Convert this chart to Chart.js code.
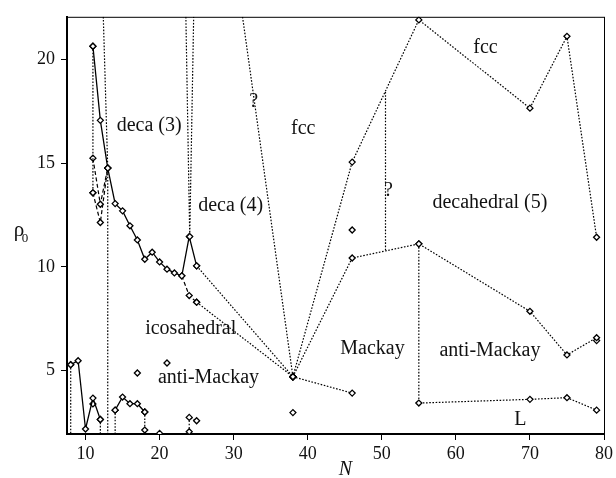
<!DOCTYPE html>
<html>
<head>
<meta charset="utf-8">
<script src="https://cdn.jsdelivr.net/npm/chart.js@4"></script>
<style>
    html, body { margin: 0; padding: 0; background: #fff; }
    #wrap { width: 616px; height: 478px; }
</style>
</head>
<body>
<div id="wrap"><canvas id="phaseChart" width="616" height="478"></canvas></div>
<script>
// axis limits and ticks
const Y_LO = 1.95, Y_HI = 22.05;
const xTicks = [10, 20, 30, 40, 50, 60, 70, 80];
const yTicks = [5, 10, 15, 20];

// deca (3) / icosahedral boundary (solid)
const decaN = [11, 12, 13, 14, 15, 16, 17, 18, 19, 20, 21, 22, 23, 24, 25];
const decaRho = [20.63, 17.06, 14.76, 13.05, 12.7, 11.98, 11.3, 10.37, 10.71, 10.24, 9.89, 9.71, 9.57, 11.46, 10.05];

// dashed branches
const dashAN = [11, 12, 13];
const dashARho = [15.24, 13.02, 14.76];
const dashBN = [11, 12, 13];
const dashBRho = [13.57, 12.14, 14.76];
const icoN = [23, 24, 25];
const icoRho = [9.57, 8.62, 8.3];

// low rho boundaries (solid)
const lowAN = [8, 9, 10, 11, 12];
const lowARho = [5.29, 5.48, 2.19, 3.68, 2.65];
const lowBN = [14, 15, 16, 17, 18];
const lowBRho = [3.1, 3.73, 3.41, 3.41, 3.01];

// larger clusters (dotted)
const fccN = [38, 46, 55, 70, 75, 79];
const fccRho = [4.71, 15.05, 21.9, 17.65, 21.11, 11.43];
const dec5N = [38, 46, 55, 70, 75, 79];
const dec5Rho = [4.71, 10.43, 11.11, 7.86, 5.76, 6.59];
const mackN = [38, 46];
const mackRho = [4.71, 3.92];
const leadN = [55, 55, 70, 75, 79];
const leadRho = [11.11, 3.44, 3.62, 3.70, 3.1];

// dotted guide lines
const guideN = [
    [11, 11], [12.4, 13, 13], [23.55, 24.07, 24.6],
    [25, 38], [25, 38], [31.2, 38],
    [8, 8], [12, 12], [14, 14], [18, 18], [24, 24, 25]
];
const guideRho = [
    [20.63, 13.57], [Y_HI, 14.76, Y_LO], [Y_HI, 11.46, Y_HI],
    [10.05, 4.71], [8.3, 4.71], [Y_HI, 4.71],
    [5.29, Y_LO], [2.65, Y_LO], [3.1, Y_LO], [3.01, 2.14], [2.06, 2.75, 2.59]
];
const unknownN = [50.5, 50.5];
const unknownRho = [18.43, 10.77];

// lone points
const loneN = [11, 17, 20, 21, 38, 46, 79];
const loneRho = [3.4, 4.89, 1.98, 5.37, 2.98, 11.78, 6.45];

// region labels
const regionText = ['deca (3)', 'deca (4)', '?', 'fcc', '?', 'fcc', 'decahedral (5)', 'icosahedral', 'anti-Mackay', 'Mackay', 'anti-Mackay', 'L'];
const regionN = [18.6, 29.6, 32.7, 39.4, 50.9, 64.0, 64.6, 24.2, 26.6, 48.75, 64.6, 68.7];
const regionRho = [16.8, 12.95, 17.95, 16.67, 13.67, 20.57, 13.1, 7.0, 4.67, 6.05, 5.95, 2.62];

const SERIF = '"Liberation Serif", "Times New Roman", serif';
const INK = '#111';

function pts(ns, rs) {
    return ns.map((n, i) => ({ x: n, y: rs[i] }));
}

function series(ns, rs, style) {
    const dash = style === 'solid' ? [] : style === 'dashed' ? [4, 2.5] : [1.6, 1.6];
    return {
        data: pts(ns, rs),
        showLine: true,
        borderColor: '#000',
        borderWidth: style === 'solid' ? 1.3 : 1.2,
        borderDash: dash,
        pointStyle: 'rectRot',
        pointBackgroundColor: '#fff',
        pointBorderColor: '#000',
        pointBorderWidth: 1.3,
        pointRadius: ctx => {
            const v = ctx.raw;
            if (!v || v.y === Y_LO || v.y === Y_HI) return 0;
            return 3;
        }
    };
}

const datasets = [];
guideN.forEach((ns, i) => datasets.push(series(ns, guideRho[i], 'dotted')));
const unk = series(unknownN, unknownRho, 'dotted');
unk.pointRadius = 0;
datasets.push(unk);
datasets.push(series(fccN, fccRho, 'dotted'));
datasets.push(series(dec5N, dec5Rho, 'dotted'));
datasets.push(series(mackN, mackRho, 'dotted'));
datasets.push(series(leadN, leadRho, 'dotted'));
datasets.push(series(dashAN, dashARho, 'dashed'));
datasets.push(series(dashBN, dashBRho, 'dashed'));
datasets.push(series(icoN, icoRho, 'dashed'));
datasets.push(series(decaN, decaRho, 'solid'));
datasets.push(series(lowAN, lowARho, 'solid'));
datasets.push(series(lowBN, lowBRho, 'solid'));
const lone = series(loneN, loneRho, 'solid');
lone.showLine = false;
datasets.push(lone);

// labels, frame and axis titles
const decorations = {
    id: 'decorations',
    afterDatasetsDraw(chart) {
        const { ctx, chartArea: a } = chart;
        const x = chart.scales.x, y = chart.scales.y;
        ctx.save();
        ctx.fillStyle = INK;
        ctx.textAlign = 'center';
        ctx.textBaseline = 'middle';
        ctx.font = '20px ' + SERIF;
        regionText.forEach((t, i) => {
            ctx.fillText(t, x.getPixelForValue(regionN[i]), y.getPixelForValue(regionRho[i]));
        });

        ctx.strokeStyle = '#000';
        ctx.lineWidth = 1;
        ctx.strokeRect(a.left + 0.5, a.top + 0.5, a.width, a.height);

        ctx.font = 'italic 20px ' + SERIF;
        ctx.fillText('N', x.getPixelForValue(45.1), a.bottom + 36);
        const midY = (a.top + a.bottom) / 2;
        ctx.font = '21px ' + SERIF;
        ctx.fillText('ρ', 19, midY + 5);
        ctx.font = '13px ' + SERIF;
        ctx.fillText('0', 25, midY + 13);
        ctx.restore();
    }
};

new Chart(document.getElementById('phaseChart'), {
    type: 'scatter',
    data: { datasets: datasets },
    plugins: [decorations],
    options: {
        responsive: false,
        animation: false,
        layout: { padding: { top: 12, right: 9, left: 0, bottom: 0 } },
        plugins: { legend: { display: false }, tooltip: { enabled: false } },
        elements: { line: { tension: 0 } },
        scales: {
            x: {
                type: 'linear',
                min: 7.5,
                max: 80,
                afterBuildTicks: s => { s.ticks = xTicks.map(v => ({ value: v })); },
                afterFit: s => { s.height = 44; },
                ticks: { color: INK, font: { family: SERIF, size: 18 }, padding: 3, maxRotation: 0 },
                grid: { drawOnChartArea: false, tickLength: 6, color: '#000' },
                border: { color: '#000', width: 2 }
            },
            y: {
                type: 'linear',
                min: Y_LO,
                max: Y_HI,
                afterBuildTicks: s => { s.ticks = yTicks.map(v => ({ value: v })); },
                afterFit: s => { s.width = 67; },
                ticks: { color: INK, font: { family: SERIF, size: 18 }, padding: 6 },
                grid: { drawOnChartArea: false, tickLength: 6, color: '#000' },
                border: { color: '#000', width: 2 }
            }
        }
    }
});
</script>
</body>
</html>
